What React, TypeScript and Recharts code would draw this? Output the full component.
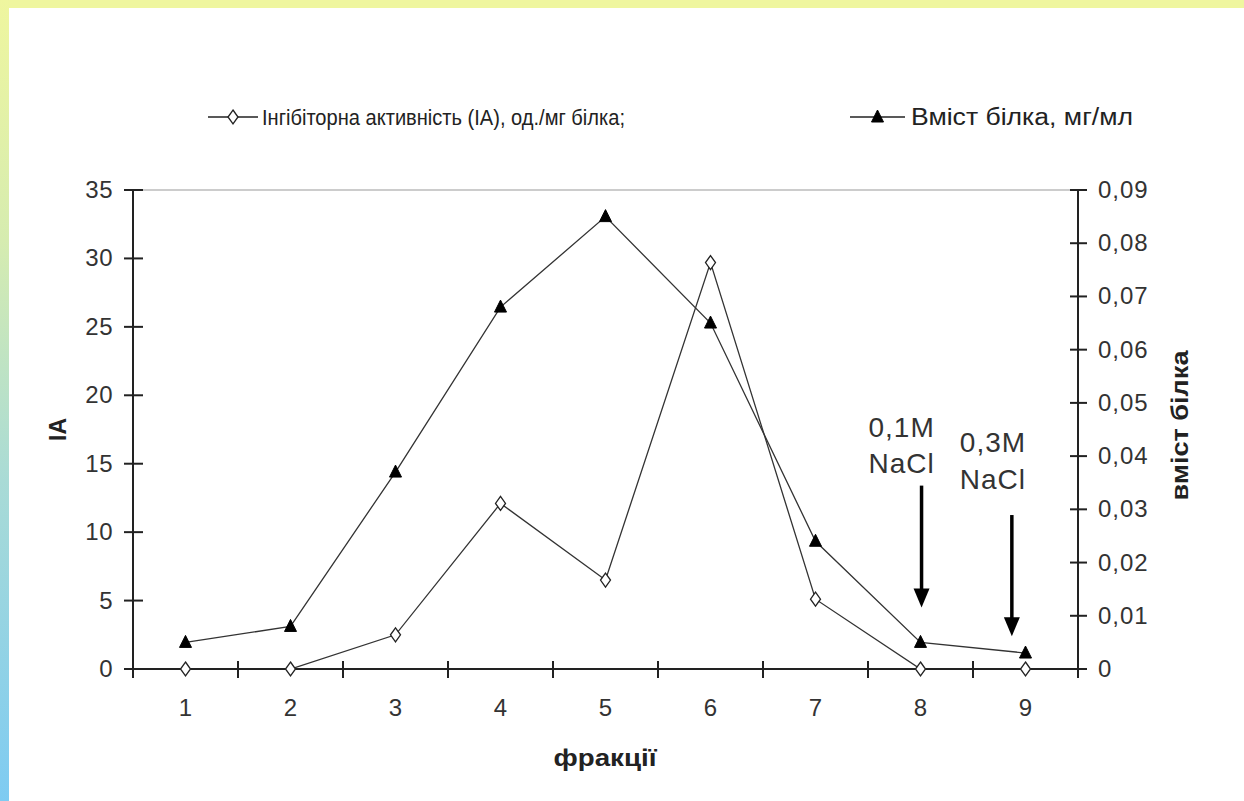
import React from 'react';
import { LineChart, Line, XAxis, YAxis, ReferenceLine, ReferenceDot, Legend } from 'recharts';

const fractions = [1, 2, 3, 4, 5, 6, 7, 8, 9];
const inhibitoryActivity = [0, 0, 2.5, 12.1, 6.5, 29.7, 5.1, 0, 0];
const proteinContent = [0.005, 0.008, 0.037, 0.068, 0.085, 0.065, 0.024, 0.005, 0.003];
const leftTicks = [0, 5, 10, 15, 20, 25, 30, 35];
const rightTicks = [0, 0.01, 0.02, 0.03, 0.04, 0.05, 0.06, 0.07, 0.08, 0.09];
const xTicks = [0.5, 1, 1.5, 2, 2.5, 3, 3.5, 4, 4.5, 5, 5.5, 6, 6.5, 7, 7.5, 8, 8.5, 9, 9.5];
const seriesNames = ['Інгібіторна активність (ІА), од./мг білка;', 'Вміст білка, мг/мл'];
const axisTitles = { x: 'фракції', left: 'ІА', right: 'вміст білка' };
const arrows = [
  { x: 8.01, from: 13.4, to: 4.5 },
  { x: 8.87, from: 11.25, to: 2.4 },
];
const arrowLabels = [
  { x: 7.82, y: 16.95, text: '0,1M' },
  { x: 7.82, y: 14.3, text: 'NaCl' },
  { x: 8.69, y: 15.85, text: '0,3M' },
  { x: 8.69, y: 13.15, text: 'NaCl' },
];

const data = fractions.map((f, i) => ({ fraction: f, ia: inhibitoryActivity[i], protein: proteinContent[i] }));

const FONT = '"Liberation Sans", Arial, sans-serif';
const INK = '#222';
const TICK_FONT = 24;

const Diamond = (props: any) => {
  const { cx, cy } = props;
  if (cx == null || cy == null) return <g />;
  return <path d={`M${cx},${cy - 7} L${cx + 5},${cy} L${cx},${cy + 7} L${cx - 5},${cy} Z`} fill="#fff" stroke={INK} strokeWidth={1.3} />;
};
const Triangle = (props: any) => {
  const { cx, cy } = props;
  if (cx == null || cy == null) return <g />;
  return <path d={`M${cx},${cy - 7} L${cx + 6},${cy + 5} L${cx - 6},${cy + 5} Z`} fill="#000" stroke="#000" strokeWidth={1} />;
};

const LeftTick = (props: any) => {
  const { x, y, payload } = props;
  return (
    <g>
      <line x1={x - 9} x2={x + 10} y1={y} y2={y} stroke={INK} strokeWidth={2} />
      <text x={x - 20} y={y + 8} textAnchor="end" fontSize={TICK_FONT} letterSpacing={0.5} fill="#333" fontFamily={FONT}>{payload.value}</text>
    </g>
  );
};
const RightTick = (props: any) => {
  const { x, y, payload } = props;
  const v = payload.value === 0 ? '0' : payload.value.toFixed(2).replace('.', ',');
  return (
    <g>
      <line x1={x - 8} x2={x + 9} y1={y} y2={y} stroke={INK} strokeWidth={2} />
      <text x={x + 20} y={y + 8} textAnchor="start" fontSize={TICK_FONT} letterSpacing={1} fill="#333" fontFamily={FONT}>{v}</text>
    </g>
  );
};
const BottomTick = (props: any) => {
  const { x, y, payload } = props;
  if (Number.isInteger(payload.value)) {
    return <text x={x} y={y + 47} textAnchor="middle" fontSize={TICK_FONT} fill="#333" fontFamily={FONT}>{payload.value}</text>;
  }
  return <line x1={x} x2={x} y1={y - 8} y2={y + 9} stroke={INK} strokeWidth={2} />;
};

const ArrowShape = (props: any) => {
  const { x1, y1, x2, y2 } = props;
  const head = 19;
  return (
    <g>
      <line x1={x1} y1={y1} x2={x2} y2={y2 - head + 2} stroke="#000" strokeWidth={3.5} />
      <path d={`M${x2},${y2} L${x2 - 8},${y2 - head} L${x2 + 8},${y2 - head} Z`} fill="#000" />
    </g>
  );
};

const LabelText = (text: string) => (props: any) => (
  <text x={props.cx} y={props.cy} textAnchor="middle" fontSize={28} letterSpacing={1} fill="#333" fontFamily={FONT}>{text}</text>
);

const renderLegend = (props: any) => {
  const payload = props.payload || [];
  const layout = [
    { m1: 208, m2: 258, text: 262, len: 363, size: 22 },
    { m1: 850, m2: 905, text: 911, len: 222, size: 23 },
  ];
  return (
    <svg width={1244} height={34} style={{ display: 'block' }}>
      {payload.map((entry: any, i: number) => (
        <g key={i}>
          <line x1={layout[i].m1} x2={layout[i].m2} y1={17} y2={17} stroke={INK} strokeWidth={1.5} />
          {i === 0 ? <Diamond cx={(layout[i].m1 + layout[i].m2) / 2} cy={17} /> : <Triangle cx={(layout[i].m1 + layout[i].m2) / 2} cy={17} />}
          <text x={layout[i].text} y={25} fontSize={layout[i].size} fill={INK} fontFamily={FONT} textLength={layout[i].len} lengthAdjust="spacingAndGlyphs">{entry.value}</text>
        </g>
      ))}
    </svg>
  );
};

export default function App() {
  return (
    <div style={{ position: 'absolute', left: 0, top: 0, width: 1244, height: 801, background: '#eff69f', overflow: 'hidden' }}>
      <div style={{ position: 'absolute', left: 0, top: 0, width: 9, height: 801, background: 'linear-gradient(#eff69f 0%, #d6ecb0 30%, #a9dbd6 60%, #7ecbf2 100%)' }} />
      <div style={{ position: 'absolute', left: 9, top: 8, width: 1235, height: 793, background: '#fff' }} />
      <div style={{ position: 'absolute', left: 0, top: 0 }}>
        <LineChart width={1244} height={801} data={data} margin={{ top: 190, right: 106, bottom: 92, left: 73 }}>
          <XAxis
            dataKey="fraction"
            type="number"
            domain={[0.5, 9.5]}
            ticks={xTicks}
            interval={0}
            tickSize={0}
            tickMargin={0}
            tickLine={false}
            tick={<BottomTick />}
            axisLine={{ stroke: INK, strokeWidth: 2 }}
            height={40}
            label={{
              content: (p: any) => (
                <text x={p.viewBox.x + p.viewBox.width / 2 - 52} y={p.viewBox.y + 97} fontSize={24} fontWeight="bold" fill={INK} fontFamily={FONT} textLength={103} lengthAdjust="spacingAndGlyphs">{axisTitles.x}</text>
              ),
            }}
          />
          <YAxis
            yAxisId="left"
            domain={[0, 35]}
            ticks={leftTicks}
            interval={0}
            tickSize={0}
            tickMargin={0}
            tickLine={false}
            tick={<LeftTick />}
            axisLine={{ stroke: INK, strokeWidth: 2 }}
            width={60}
            label={{
              content: (p: any) => {
                const cx = p.viewBox.x - 15;
                const cy = p.viewBox.y + p.viewBox.height / 2;
                return <text x={cx} y={cy} transform={`rotate(-90 ${cx} ${cy})`} textAnchor="middle" dominantBaseline="central" fontSize={23} fontWeight="bold" fill={INK} fontFamily={FONT}>{axisTitles.left}</text>;
              },
            }}
          />
          <YAxis
            yAxisId="right"
            orientation="right"
            domain={[0, 0.09]}
            ticks={rightTicks}
            interval={0}
            tickSize={0}
            tickMargin={0}
            tickLine={false}
            tick={<RightTick />}
            axisLine={{ stroke: INK, strokeWidth: 2 }}
            width={60}
            label={{
              content: (p: any) => {
                const cx = p.viewBox.x + 102;
                const cy = p.viewBox.y + p.viewBox.height / 2 - 4;
                return <text x={cx} y={cy} transform={`rotate(-90 ${cx} ${cy})`} textAnchor="middle" dominantBaseline="central" fontSize={23} fontWeight="bold" fill={INK} fontFamily={FONT} textLength={150} lengthAdjust="spacingAndGlyphs">{axisTitles.right}</text>;
              },
            }}
          />
          <ReferenceLine yAxisId="left" y={35} stroke="#999" strokeWidth={1} />
          <Legend layout="vertical" align="center" verticalAlign="middle" content={renderLegend} wrapperStyle={{ position: 'absolute', top: 100, left: 0, width: 1244, height: 34 }} />
          <Line yAxisId="left" name={seriesNames[0]} dataKey="ia" stroke="#333" strokeWidth={1.3} dot={<Diamond />} activeDot={false} isAnimationActive={false} />
          <Line yAxisId="right" name={seriesNames[1]} dataKey="protein" stroke="#333" strokeWidth={1.3} dot={<Triangle />} activeDot={false} isAnimationActive={false} />
          {arrows.map((a, i) => (
            <ReferenceLine key={`a${i}`} yAxisId="left" segment={[{ x: a.x, y: a.from }, { x: a.x, y: a.to }]} shape={<ArrowShape />} />
          ))}
          {arrowLabels.map((l, i) => (
            <ReferenceDot key={`l${i}`} yAxisId="left" x={l.x} y={l.y} r={0} shape={LabelText(l.text)} />
          ))}
        </LineChart>
      </div>
    </div>
  );
}
